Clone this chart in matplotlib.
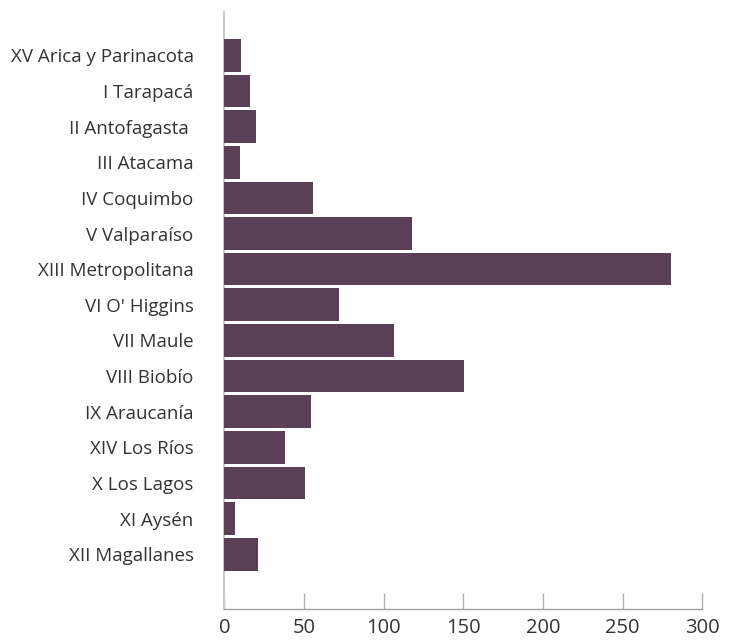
import matplotlib
matplotlib.use("Agg")
import matplotlib.pyplot as plt

regions = ["XV Arica y Parinacota", "I Tarapacá", "II Antofagasta ", "III Atacama",
           "IV Coquimbo", "V Valparaíso", "XIII Metropolitana", "VI O' Higgins",
           "VII Maule", "VIII Biobío", "IX Araucanía", "XIV Los Ríos",
           "X Los Lagos", "XI Aysén", "XII Magallanes"]
values = [10.4, 16.4, 19.6, 9.7, 55.5, 117.7, 280.4, 72, 106.5, 150.4, 54.4, 38.1, 50.6, 6.7, 21.1]
xticks = [0, 50, 100, 150, 200, 250, 300]

plt.rcParams['font.family'] = ['Open Sans', 'DejaVu Sans']

fig = plt.figure(figsize=(7.32, 6.4), dpi=100)
ax = fig.add_axes([224.3/732, 31/640, (702.3-224.3)/732, (609-12)/640])

pos = list(range(len(regions)))
ax.barh(pos, values, height=0.917, color='#5a3f56', zorder=3)
ax.set_xlim(0, 300)
ax.set_ylim(14 + 1.535, -1.215)
ax.set_yticks(pos)
ax.set_yticklabels(regions, fontsize=13.5, color='#333333')
ax.set_xticks(xticks)
ax.set_xticklabels([str(t) for t in xticks], fontsize=14.5, color='#333333')

ax.tick_params(axis='y', length=0, pad=22)
ax.tick_params(axis='x', direction='in', length=11.5, width=1, color='#b0b0b0', pad=6.5)

for s in ['top', 'right']:
    ax.spines[s].set_visible(False)
ax.spines['left'].set_color('#cccccc')
ax.spines['left'].set_linewidth(1.5)
ax.spines['bottom'].set_color('#a0a0a0')
ax.spines['bottom'].set_linewidth(1)

fig.savefig('out.png', dpi=100, facecolor='white')
